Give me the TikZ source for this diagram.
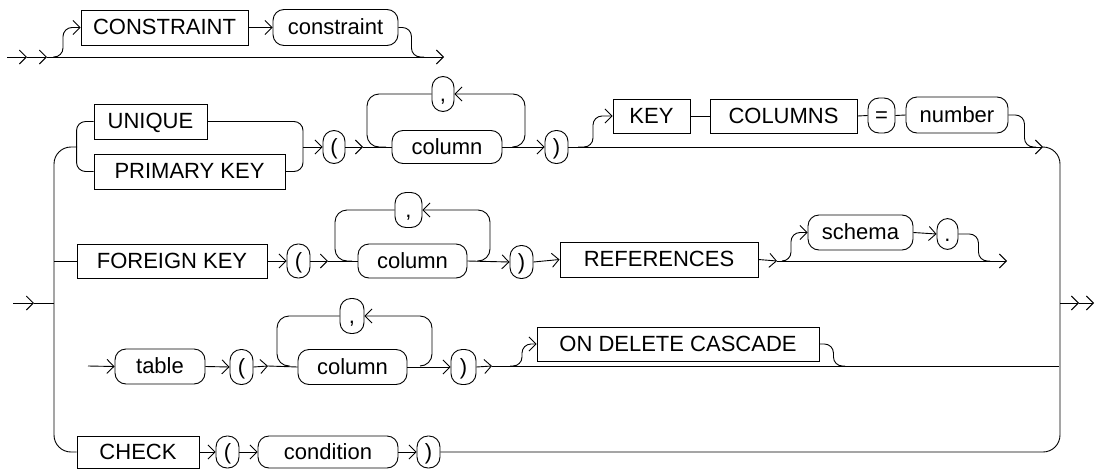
\documentclass[tikz,border=0pt]{standalone}
\usepackage{fontspec}
\setmainfont{Liberation Sans}
\usetikzlibrary{arrows.meta}
\begin{document}
\begin{tikzpicture}[x=1pt,y=-1pt,line width=0.9pt,
  kw/.style={draw, rectangle, inner sep=0pt, text height=17pt, text depth=3pt, font=\fontsize{22}{24}\selectfont},
  ov/.style={draw, rectangle, rounded corners=11pt, inner sep=0pt, text height=17pt, text depth=3pt, font=\fontsize{22}{24}\selectfont},
  arr/.style={-{Straight Barb[length=7pt,width=14pt]}},
  rc/.style={rounded corners=9pt},
  rl/.style={rounded corners=12pt},
  rb/.style={rounded corners=17pt}]
\useasboundingbox (0,0) rectangle (1095,469);
\fill[white] (0,0) rectangle (1095,469);

% ---------- row 1 ----------
\node[kw, minimum width=167pt, minimum height=35pt] (kc) at (164.5,27.5) {CONSTRAINT};
\node[ov, minimum width=125pt, minimum height=36pt] (ic) at (335.5,27.5) {constraint};
\coordinate (r1s) at (7,57);
\coordinate (r1a) at (27,57);
\coordinate (r1b) at (47,57);
\coordinate (r1j) at (53,57);
\coordinate (r1k) at (424,57);
\coordinate (r1e) at (444,57);
\draw[arr] (r1s) -- (r1a);
\draw[arr] (r1a) -- (r1b);
\draw[arr] (r1b) -- (r1e);
\draw[arr,rc] (r1j) -- ++(10,0) |- (kc.west);
\draw[arr] (kc.east) -- (ic.west);
\draw[rc] (ic.east) -- ++(13,0) |- (r1k);

% ---------- row 2a ----------
\node[kw, minimum width=113pt, minimum height=35pt] (uq) at (150.5,121.5) {UNIQUE};
\node[kw, minimum width=191pt, minimum height=35pt] (pk) at (189.5,171.5) {PRIMARY KEY};
\node[ov, minimum width=22pt, minimum height=33pt] (lpa) at (334,147) {(};
\node[ov, minimum width=110pt, minimum height=33pt] (cola) at (447,147) {column};
\node[ov, minimum width=22pt, minimum height=35pt] (cma) at (443,94) {,};
\node[ov, minimum width=23pt, minimum height=33pt] (rpa) at (556.5,147) {)};
\node[kw, minimum width=77pt, minimum height=34pt] (key) at (651.5,116) {KEY};
\node[kw, minimum width=147pt, minimum height=34pt] (cols) at (783.5,116) {COLUMNS};
\node[ov, minimum width=27pt, minimum height=35pt] (eq) at (881.5,115.5) {=};
\node[ov, minimum width=102pt, minimum height=36pt] (num) at (957,115) {number};

\coordinate (ibj) at (77,147);
\coordinate (rbj) at (303,147);
\coordinate (a1) at (363,147);
\coordinate (lpj) at (386,147);
\coordinate (rpj) at (512,147);
\coordinate (kj) at (578,147);
\coordinate (nj) at (1036,147);
\coordinate (r2e) at (1043,147);

% inner bracket
\draw[rc] (uq.west) -- ++(-17,0) |- (pk.west);
\draw[rc] (uq.east) -| (rbj) |- (pk.east);
\draw[arr] (rbj) -- (lpa.west);
\draw[arr] (lpa.east) -- (a1);
\draw (a1) -- (cola.west);
\draw[rl] (cma.west) -| (367,147) -- (lpj);
\draw[arr,rl] (rpj) -- (525,147) |- (cma.east);
\draw[arr] (cola.east) -- (rpa.west);
\draw[arr] (rpa.east) -- (r2e);
\draw[arr,rc] (kj) -- ++(15,0) |- (key.west);
\draw (key.east) -- (cols.west);
\draw (cols.east) -- (eq.west);
\draw (eq.east) -- (num.west);
\draw[rc] (num.east) -- ++(16,0) |- (nj);

% ---------- row 2b ----------
\node[kw, minimum width=190pt, minimum height=34pt] (fk) at (172,261) {FOREIGN KEY};
\node[ov, minimum width=23pt, minimum height=34pt] (lpb) at (298.5,261) {(};
\node[ov, minimum width=109pt, minimum height=34pt] (colb) at (412.5,261) {column};
\node[ov, minimum width=27pt, minimum height=35pt] (cmb) at (408.5,210) {,};
\node[ov, minimum width=23pt, minimum height=33pt] (rpb) at (521.5,262) {)};
\node[kw, minimum width=198pt, minimum height=35pt] (ref) at (659,259.5) {REFERENCES};
\node[ov, minimum width=105pt, minimum height=35pt] (sch) at (860.5,232.5) {schema};
\node[ov, minimum width=21pt, minimum height=31pt] (dot) at (947.5,234) {.};

\coordinate (vfk) at (54,261);
\coordinate (b1) at (328,261);
\coordinate (bl) at (352,261);
\coordinate (br) at (477,261);
\coordinate (b2) at (777,261);
\coordinate (bs) at (783,261);
\coordinate (bd) at (990,261);
\coordinate (r3e) at (1007,261);

\draw (vfk) -- (fk.west);
\draw[arr] (fk.east) -- (lpb.west);
\draw[arr] (lpb.east) -- (b1);
\draw (b1) -- (colb.west);
\draw[rl] (cmb.west) -| (335,261) -- (bl);
\draw[arr,rl] (br) -- (490,261) |- (cmb.east);
\draw[arr] (colb.east) -- (rpb.west);
\draw[arr] (rpb.east) -- (ref.west);
\draw[arr] (ref.east) -- (b2);
\draw[arr] (b2) -- (r3e);
\draw[arr,rc] (bs) -- ++(8,0) |- (sch.west);
\draw[arr] (sch.east) -- (dot.west);
\draw[rc] (dot.east) -- ++(20,0) |- (bd);

% ---------- row 3 ----------
\node[ov, minimum width=90pt, minimum height=35pt] (tbl) at (160,366.5) {table};
\node[ov, minimum width=23pt, minimum height=35pt] (lpc) at (241.5,367) {(};
\node[ov, minimum width=109pt, minimum height=35pt] (colc) at (352.5,367) {column};
\node[ov, minimum width=24pt, minimum height=35pt] (cmc) at (352,316) {,};
\node[ov, minimum width=25pt, minimum height=35pt] (rpc) at (463.5,367) {)};
\node[kw, minimum width=282pt, minimum height=34pt] (odc) at (678,344) {ON DELETE CASCADE};

\coordinate (c0) at (88,366);
\coordinate (c1) at (268,366);
\coordinate (cl) at (290,366);
\coordinate (cr) at (420,366);
\coordinate (c2) at (492,366);
\coordinate (cb) at (510,366);
\coordinate (cd) at (845,366);
\coordinate (r4e) at (1059,366);

\draw[arr] (c0) -- (tbl.west);
\draw[arr] (tbl.east) -- (lpc.west);
\draw[arr] (lpc.east) -- (c1);
\draw (c1) -- (colc.west);
\draw[rl] (cmc.west) -| (277,366) -- (cl);
\draw[arr,rl] (cr) -- (432,366) |- (cmc.east);
\draw[arr] (colc.east) -- (rpc.west);
\draw[arr] (rpc.east) -- (c2);
\draw (c2) -- (r4e);
\draw[arr,rc] (cb) -- ++(12,0) |- (odc.west);
\draw[rc] (odc.east) -- ++(14,0) |- (cd);

% ---------- row 4 ----------
\node[kw, minimum width=122pt, minimum height=32pt] (ck) at (138,452) {CHECK};
\node[ov, minimum width=23pt, minimum height=32pt] (lpd) at (227.5,452) {(};
\node[ov, minimum width=140pt, minimum height=32pt] (cond) at (328,452) {condition};
\node[ov, minimum width=23pt, minimum height=32pt] (rpd) at (428.5,452) {)};

\draw[arr] (ck.east) -- (lpd.west);
\draw[arr] (lpd.east) -- (cond.west);
\draw[arr] (cond.east) -- (rpd.west);
\draw[rb] (r2e) -| (1060,452) -- (rpd.east);

% outer left bracket
\draw[rb] (ibj) -- (54,147) |- (ck.west);

% ---------- entry / exit ----------
\coordinate (e0) at (13,303);
\coordinate (e1) at (34,303);
\coordinate (e2) at (54,303);
\coordinate (x0) at (1060,303);
\coordinate (x1) at (1079,303);
\coordinate (x2) at (1094,303);
\draw[arr] (e0) -- (e1);
\draw (e1) -- (e2);
\draw[arr] (x0) -- (x1);
\draw[arr] (x1) -- (x2);
\end{tikzpicture}
\end{document}
